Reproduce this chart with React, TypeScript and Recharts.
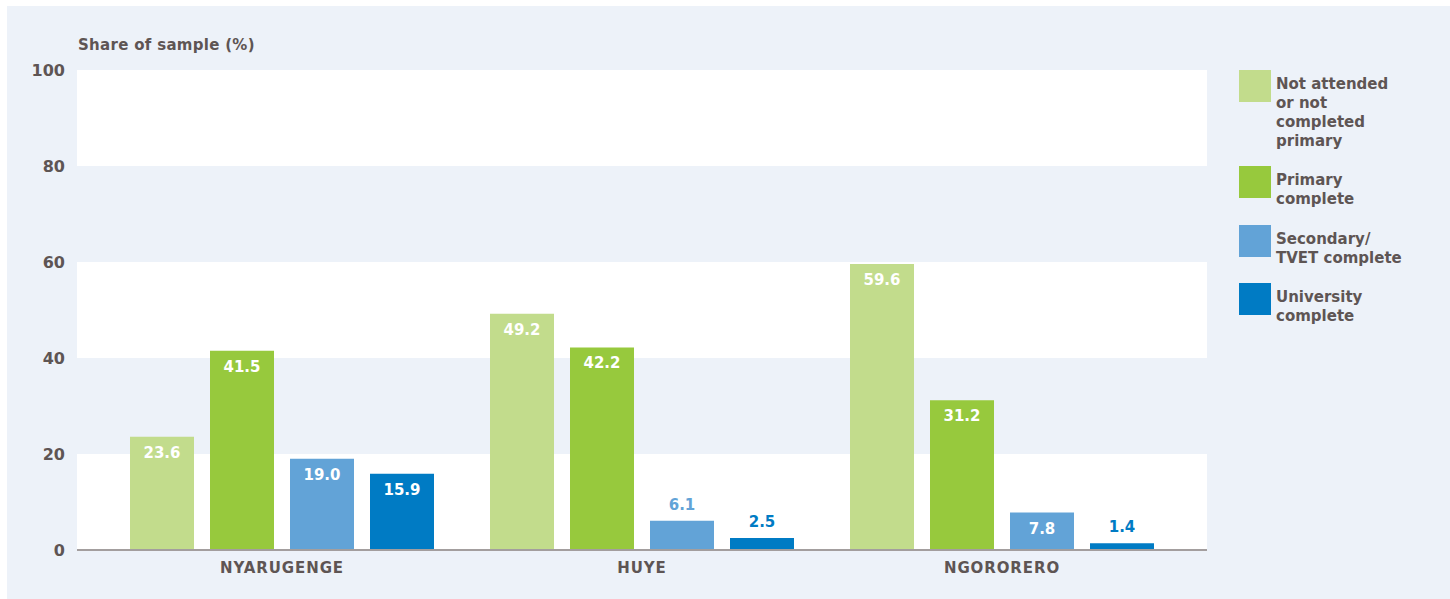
import { BarChart, Bar, XAxis, YAxis, CartesianGrid, LabelList } from "recharts";

const districts = ["NYARUGENGE", "HUYE", "NGORORERO"];
const notCompleted = [23.6, 49.2, 59.6];
const primary = [41.5, 42.2, 31.2];
const secondary = [19.0, 6.1, 7.8];
const university = [15.9, 2.5, 1.4];
const yTicks = [0, 20, 40, 60, 80, 100];

const SERIES = [
  { key: "notCompleted", name: "Not attended\nor not\ncompleted\nprimary", color: "#c2dc8c" },
  { key: "primary", name: "Primary\ncomplete", color: "#97c93d" },
  { key: "secondary", name: "Secondary/\nTVET complete", color: "#62a3d7" },
  { key: "university", name: "University\ncomplete", color: "#007bc4" },
];

const data = districts.map((d, i) => ({
  district: d,
  notCompleted: notCompleted[i],
  primary: primary[i],
  secondary: secondary[i],
  university: university[i],
}));

const FONT = "'DejaVu Sans', sans-serif";
const TEXT = "#5e5554";
const BG = "#edf2f9";

function valueLabel(color: string) {
  return (props: any) => {
    const { x, y, width, value } = props;
    const outside = value < 7;
    return (
      <text
        x={x + width / 2}
        y={outside ? y - 16 : y + 16}
        textAnchor="middle"
        dominantBaseline="central"
        fill={outside ? color : "#ffffff"}
        fontFamily={FONT}
        fontWeight={700}
        fontSize={15}
      >
        {Number(value).toFixed(1)}
      </text>
    );
  };
}

export default function App() {
  return (
    <div style={{ position: "fixed", left: 0, top: 0, width: 1450, height: 599, background: "#fff", overflow: "hidden" }}>
      <div style={{ position: "absolute", left: 7, top: 6, width: 1443, height: 593, background: BG }} />
      <div
        style={{
          position: "absolute",
          left: 78,
          top: 36,
          fontFamily: FONT,
          fontWeight: 700,
          fontSize: 15,
          letterSpacing: 0.3,
          color: TEXT,
        }}
      >
        Share of sample (%)
      </div>
      <div style={{ position: "absolute", left: 0, top: 0 }}>
        <BarChart
          width={1450}
          height={599}
          data={data}
          margin={{ top: 70, right: 243, bottom: 9, left: 0 }}
          barSize={64}
          barGap={16}
        >
          <CartesianGrid
            vertical={false}
            stroke="none"
            horizontalFill={["#ffffff", BG]}
            fillOpacity={1}
          />
          <XAxis
            dataKey="district"
            height={40}
            padding={{ left: 25, right: 25 }}
            tickLine={false}
            tickSize={0}
            tickMargin={12}
            axisLine={{ stroke: "#a39e9e", strokeWidth: 2 }}
            tick={{ fill: TEXT, fontFamily: FONT, fontWeight: 700, fontSize: 15, letterSpacing: 0.9 }}
          />
          <YAxis
            width={77}
            domain={[0, 100]}
            ticks={yTicks}
            axisLine={false}
            tickLine={false}
            tickSize={0}
            tickMargin={12}
            tick={{ fill: TEXT, fontFamily: FONT, fontWeight: 700, fontSize: 16 }}
          />
          {SERIES.map((s) => (
            <Bar key={s.key} dataKey={s.key} fill={s.color} isAnimationActive={false}>
              <LabelList dataKey={s.key} content={valueLabel(s.color)} />
            </Bar>
          ))}
        </BarChart>
      </div>
      {SERIES.map((s, i) => (
        <div key={s.key} style={{ position: "absolute", left: 1239, top: [70, 166, 225, 283][i] }}>
          <div style={{ position: "absolute", left: 0, top: 0, width: 32, height: 32, background: s.color }} />
          <div
            style={{
              position: "absolute",
              left: 37,
              top: 5,
              whiteSpace: "pre",
              fontFamily: FONT,
              fontWeight: 700,
              fontSize: 15,
              lineHeight: "19px",
              color: TEXT,
            }}
          >
            {s.name}
          </div>
        </div>
      ))}
    </div>
  );
}
